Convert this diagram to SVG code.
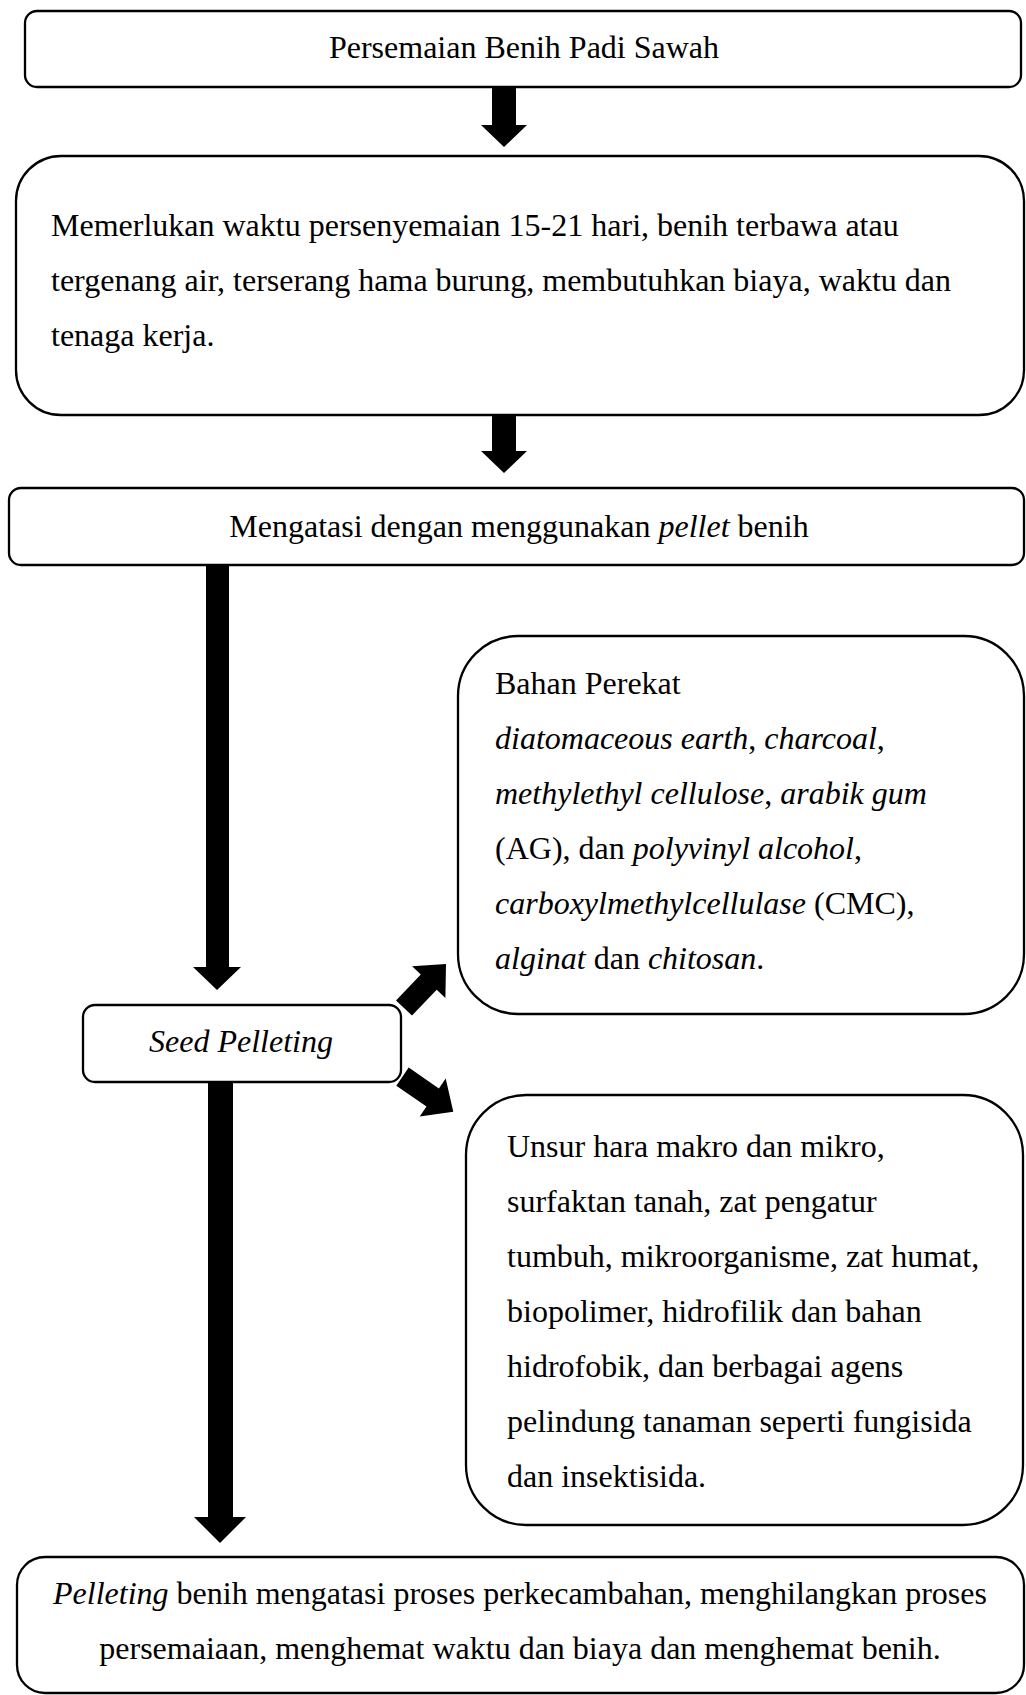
<svg xmlns="http://www.w3.org/2000/svg" width="1026" height="1695" viewBox="0 0 1026 1695">
<style>
.box{fill:#fff;stroke:#000;stroke-width:2.3}
.t{font-family:"Liberation Serif","Times New Roman",serif;font-size:32px;fill:#000}
.c{text-anchor:middle}
.i{font-style:italic}
.arr{fill:#000;stroke:none}
</style>
<rect width="1026" height="1695" fill="#fff"/>
<g id="connectors">
<polygon class="arr" points="492,87 516,87 516,125 527,125 504,147 481,125 492,125"/>
<polygon class="arr" points="492,415 516,415 516,451 527,451 504,473 481,451 492,451"/>
<polygon class="arr" points="206,565 229,565 229,967 241,967 217,990 193,967 206,967"/>
<polygon class="arr" points="208,1082 233,1082 233,1517 246,1517 220,1543 194,1517 208,1517"/>
<polygon class="arr" points="396,1000.4 420.8,974.5 412.1,966.2 446,964 445.4,998 436.7,989.7 412,1015.6"/>
<polygon class="arr" points="408.7,1067.6 438.9,1088.4 445.7,1078.6 453.3,1111.7 419.7,1116.4 426.5,1106.6 396.3,1085.8"/>
</g>
<g id="node1">
<rect class="box" x="25" y="11" width="996" height="76" rx="12"/>
<text class="t c" x="524" y="58">Persemaian Benih Padi Sawah</text>
</g>
<g id="node2">
<rect class="box" x="16" y="156" width="1008" height="259" rx="45"/>
<text class="t" x="51" y="236">Memerlukan waktu persenyemaian 15-21 hari, benih terbawa atau</text>
<text class="t" x="51" y="291">tergenang air, terserang hama burung, membutuhkan biaya, waktu dan</text>
<text class="t" x="51" y="346">tenaga kerja.</text>
</g>
<g id="node3">
<rect class="box" x="9" y="488" width="1015" height="77" rx="12"/>
<text class="t c" x="519" y="537">Mengatasi dengan menggunakan <tspan class="i">pellet</tspan> benih</text>
</g>
<g id="node4">
<rect class="box" x="458" y="636" width="566" height="378" rx="60"/>
<text class="t" x="495" y="694">Bahan Perekat</text>
<text class="t" x="495" y="749"><tspan class="i">diatomaceous earth</tspan>, <tspan class="i">charcoal</tspan>,</text>
<text class="t" x="495" y="804"><tspan class="i">methylethyl cellulose</tspan>, <tspan class="i">arabik gum</tspan></text>
<text class="t" x="495" y="859">(AG), dan <tspan class="i">polyvinyl alcohol</tspan>,</text>
<text class="t" x="495" y="914"><tspan class="i">carboxylmethylcellulase</tspan> (CMC),</text>
<text class="t" x="495" y="969"><tspan class="i">alginat</tspan> dan <tspan class="i">chitosan</tspan>.</text>
</g>
<g id="node5">
<rect class="box" x="83" y="1005" width="318" height="77" rx="12"/>
<text class="t c i" x="241" y="1052">Seed Pelleting</text>
</g>
<g id="node6">
<rect class="box" x="466" y="1095" width="557" height="430" rx="60"/>
<text class="t" x="507" y="1157">Unsur hara makro dan mikro,</text>
<text class="t" x="507" y="1212">surfaktan tanah, zat pengatur</text>
<text class="t" x="507" y="1267">tumbuh, mikroorganisme, zat humat,</text>
<text class="t" x="507" y="1322">biopolimer, hidrofilik dan bahan</text>
<text class="t" x="507" y="1377">hidrofobik, dan berbagai agens</text>
<text class="t" x="507" y="1432">pelindung tanaman seperti fungisida</text>
<text class="t" x="507" y="1487">dan insektisida.</text>
</g>
<g id="node7">
<rect class="box" x="17" y="1557" width="1007" height="136" rx="28"/>
<text class="t c" x="520" y="1604"><tspan class="i">Pelleting</tspan> benih mengatasi proses perkecambahan, menghilangkan proses</text>
<text class="t c" x="520" y="1659">persemaiaan, menghemat waktu dan biaya dan menghemat benih.</text>
</g>
</svg>
